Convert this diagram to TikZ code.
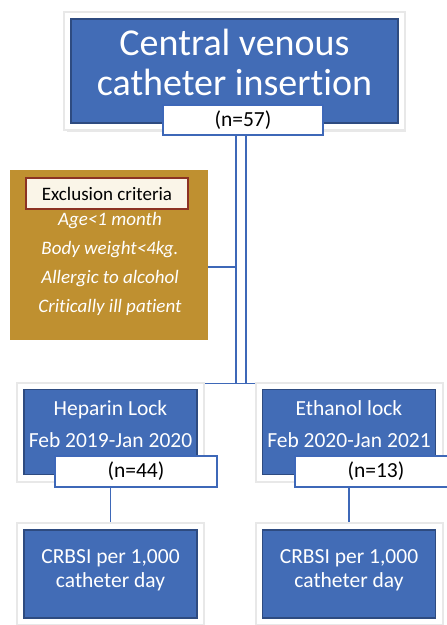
\documentclass[tikz,border=0pt]{standalone}
\usepackage{fontspec}
\setmainfont{Carlito}[Ligatures=NoCommon]
\usepackage{xcolor}
\usetikzlibrary{positioning,calc,shadows,backgrounds}

\definecolor{boxblue}{RGB}{66,108,182}
\definecolor{linkblue}{RGB}{62,104,184}
\definecolor{gold}{RGB}{191,144,48}
\definecolor{cream}{RGB}{250,245,232}
\definecolor{rust}{RGB}{140,50,35}

\tikzset{
    framebox/.style={fill=white, inner sep=0pt,
        drop shadow={opacity=0.18, shadow xshift=2pt, shadow yshift=-2.5pt},
        preaction={draw=black!9, line width=4pt},
        path picture={\fill[boxblue] ([shift={(5.5pt,5.5pt)}]path picture bounding box.south west) rectangle ([shift={(-5.5pt,-5.5pt)}]path picture bounding box.north east);
            \draw[boxblue!70!black, line width=1.2pt] ([shift={(6pt,6pt)}]path picture bounding box.south west) rectangle ([shift={(-6pt,-6pt)}]path picture bounding box.north east);}},
    countbox/.style={rectangle, fill=white, draw=linkblue, line width=1.2pt, inner sep=0pt, font=\fontsize{21.5}{24}\selectfont},
    boxtext/.style={align=center, text=white, inner sep=0pt, font=\fontsize{21.5}{32}\selectfont},
    crit/.style={anchor=base, text=white, inner sep=0pt, font=\fontsize{19}{22}\selectfont\itshape},
    link/.style={draw=linkblue, line width=1.6pt}
}

\begin{document}
\begin{tikzpicture}[x=1pt,y=-1pt]
    \useasboundingbox (0,0) rectangle (447,625);

    % top
    \node[framebox, minimum width=339pt, minimum height=116pt] (insert) at (234.5,71) {};
    \node[align=center, text=white, inner sep=0pt, font=\fontsize{38}{40}\selectfont] (title) at (234.5,62) {Central venous\\catheter insertion};
    \node[countbox, minimum width=160pt, minimum height=30pt] (n57) at (243,120) {(n=57)};

    % exclusion
    \node[fill=gold, minimum width=198pt, minimum height=170pt, inner sep=0pt] (excl) at (109,255) {};
    \node[fill=cream, draw=rust, line width=1.2pt, minimum width=162pt, minimum height=31pt, inner sep=0pt, font=\fontsize{19}{22}\selectfont] (exlabel) at (107,193.5) {Exclusion criteria};
    \foreach \txt [count=\i] in {Age<1 month, Body weight<4kg., Allergic to alcohol, Critically ill patient}
        \node[crit] (crit\i) at (110, 196+29*\i) {\txt};

    % arms
    \node[framebox, minimum width=185pt, minimum height=97pt] (heparin) at (110.5,432) {};
    \node[boxtext] (heptext) at (110.5,424) {Heparin Lock\\Feb 2019-Jan 2020};
    \node[countbox, minimum width=162pt, minimum height=31pt] (n44) at (136,471.5) {(n=44)};

    \node[framebox, minimum width=185pt, minimum height=97pt] (ethanol) at (349,432) {};
    \node[boxtext] (ethtext) at (349,424) {Ethanol lock\\Feb 2020-Jan 2021};
    \node[countbox, minimum width=162pt, minimum height=31pt] (n13) at (376,471.5) {(n=13)};

    % outcomes
    \node[framebox, minimum width=185pt, minimum height=100pt] (crbsiA) at (110.5,574) {};
    \node[boxtext, font=\fontsize{21.5}{24}\selectfont] (crbsiAtext) at (110.5,570) {CRBSI per 1,000\\catheter day};
    \node[framebox, minimum width=185pt, minimum height=100pt] (crbsiB) at (349,574) {};
    \node[boxtext, font=\fontsize{21.5}{24}\selectfont] (crbsiBtext) at (349,570) {CRBSI per 1,000\\catheter day};

    % links behind the boxes
    \begin{scope}[on background layer]
        \coordinate (trunkL) at ([xshift=-7pt]n57.south);
        \coordinate (trunkR) at ([xshift=3pt]n57.south);
        \draw[link] (trunkL) -- (trunkL |- heparin.north);
        \draw[link] (trunkR) -- (trunkR |- ethanol.north);
        \draw[link] (heparin.north east) -- (ethanol.north west);
        \draw[link] ([yshift=-12pt]excl.east) -- ([yshift=-12pt,xshift=1pt]excl.east -| trunkL);
        \draw[link] (heparin.center |- n44.south) -- (crbsiA.north);
        \draw[link] (ethanol.center |- n13.south) -- (crbsiB.north);
    \end{scope}
\end{tikzpicture}
\end{document}
